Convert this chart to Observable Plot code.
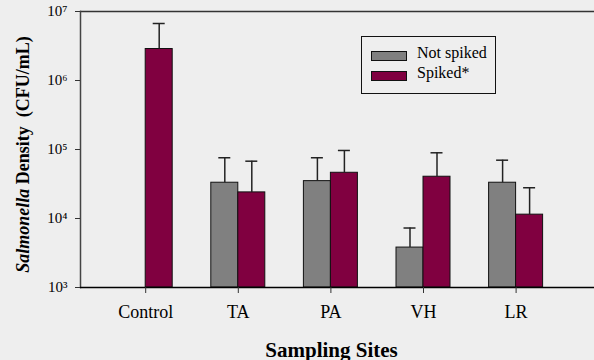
<!DOCTYPE html>
<html><head><meta charset="utf-8">
<script src="https://cdn.jsdelivr.net/npm/d3@7"></script>
<script src="https://cdn.jsdelivr.net/npm/@observablehq/plot@0.6"></script>
<style>
html,body{margin:0;padding:0;background:#eeeeee;}
#wrap{position:relative;width:594px;height:360px;font-family:'Liberation Serif','Times New Roman',serif;}
#legend{position:absolute;left:361px;top:36px;width:135px;height:58px;box-sizing:border-box;border:1px solid #111;}
#legend .row{position:absolute;left:9px;height:20px;}
#legend .sw{position:absolute;left:0;top:0;width:36px;height:10px;border:1px solid #111;box-sizing:border-box;}
#legend .lb{position:absolute;left:46px;top:-7px;font-size:16px;white-space:nowrap;color:#000;font-family:'Liberation Serif','Times New Roman',serif;}
</style></head><body><div id="wrap"></div>
<script>
const sites = ["Control", "TA", "PA", "VH", "LR"];
const notSpiked = [null, 33000, 34800, 3790, 33000];
const notSpikedErr = [null, 75900, 75900, 7280, 70000];
const spiked = [2860000, 23900, 46000, 40300, 11370];
const spikedErr = [6700000, 67700, 96800, 89600, 27900];
const yTicks = [1e3, 1e4, 1e5, 1e6, 1e7];
const yTickLabels = ["10³", "10⁴", "10⁵", "10⁶", "10⁷"];
const seriesNames = ["Not spiked", "Spiked*"];
const seriesColors = ["#808080", "#800040"];

const grayRows = sites.map((s, i) => ({site: s, value: notSpiked[i], err: notSpikedErr[i]})).filter(d => d.value != null);
const redRows = sites.map((s, i) => ({site: s, value: spiked[i], err: spikedErr[i]})).filter(d => d.value != null);

const half = 46.3, barW = 27, off = 13.5, cap = 6;

const chart = Plot.plot({
  width: 594, height: 360,
  marginLeft: 80, marginRight: 0, marginTop: 11, marginBottom: 73,
  style: {background: "transparent", fontFamily: "'Liberation Serif','Times New Roman',serif", color: "#000", overflow: "visible"},
  x: {type: "band", domain: sites, range: [98.9, 561.9], padding: 0, round: false, axis: null},
  y: {type: "log", domain: [1e3, 1e7], axis: null},
  marks: [
    Plot.ruleY([1e7], {stroke: "#333", strokeWidth: 1.5}),
    Plot.frame({anchor: "left", stroke: "#444", strokeWidth: 1.5}),
    Plot.barY(grayRows, {x: "site", y1: 1000, y2: "value", fill: seriesColors[0], stroke: "#111", strokeWidth: 1, insetLeft: half - barW, insetRight: half}),
    Plot.barY(redRows, {x: "site", y1: 1000, y2: "value", fill: seriesColors[1], stroke: "#111", strokeWidth: 1, insetLeft: half, insetRight: half - barW}),
    Plot.ruleX(grayRows, {x: "site", y1: "value", y2: "err", dx: -off, stroke: "#222", strokeWidth: 1.5}),
    Plot.ruleX(redRows, {x: "site", y1: "value", y2: "err", dx: off, stroke: "#222", strokeWidth: 1.5}),
    Plot.tickY(grayRows, {x: "site", y: "err", stroke: "#222", strokeWidth: 1.5, insetLeft: half - off - cap, insetRight: half + off - cap}),
    Plot.tickY(redRows, {x: "site", y: "err", stroke: "#222", strokeWidth: 1.5, insetLeft: half + off - cap, insetRight: half - off - cap}),
    Plot.ruleY([1e3], {stroke: "#000", strokeWidth: 1.5}),
    Plot.axisY({ticks: yTicks, tickFormat: d => yTickLabels[yTicks.indexOf(d)], tickSize: 5, tickPadding: 8, fontSize: 15, stroke: "#333", label: null}),
    Plot.axisX({tickSize: 6, tickPadding: 12, fontSize: 18, stroke: "#333", label: null}),
    Plot.text(["Sampling Sites"], {frameAnchor: "bottom", dx: -6, dy: 69, fontSize: 21, fontWeight: "bold", lineAnchor: "bottom"}),
    Plot.text(["Salmonella Density  (CFU/mL)"], {frameAnchor: "left", dx: -57, dy: 5, rotate: -90, textAnchor: "middle", lineAnchor: "middle", fontSize: 18, fontWeight: "bold", className: "ytitle"})
  ]
});

const t = chart.querySelector(".ytitle text");
if (t) {
  t.textContent = "";
  const a = document.createElementNS("http://www.w3.org/2000/svg", "tspan");
  a.setAttribute("font-style", "italic");
  a.textContent = "Salmonella";
  const b = document.createElementNS("http://www.w3.org/2000/svg", "tspan");
  b.textContent = " Density\u00a0\u00a0(CFU/mL)";
  t.appendChild(a); t.appendChild(b);
}

const wrap = document.getElementById("wrap");
wrap.appendChild(chart);
const lg = document.createElement("div");
lg.id = "legend";
seriesNames.forEach((n, i) => {
  const r = document.createElement("div");
  r.className = "row";
  r.style.top = (14 + i * 20) + "px";
  const sw = document.createElement("div");
  sw.className = "sw"; sw.style.background = seriesColors[i];
  const lb = document.createElement("div");
  lb.className = "lb"; lb.textContent = n;
  r.appendChild(sw); r.appendChild(lb);
  lg.appendChild(r);
});
wrap.appendChild(lg);
</script></body></html>
